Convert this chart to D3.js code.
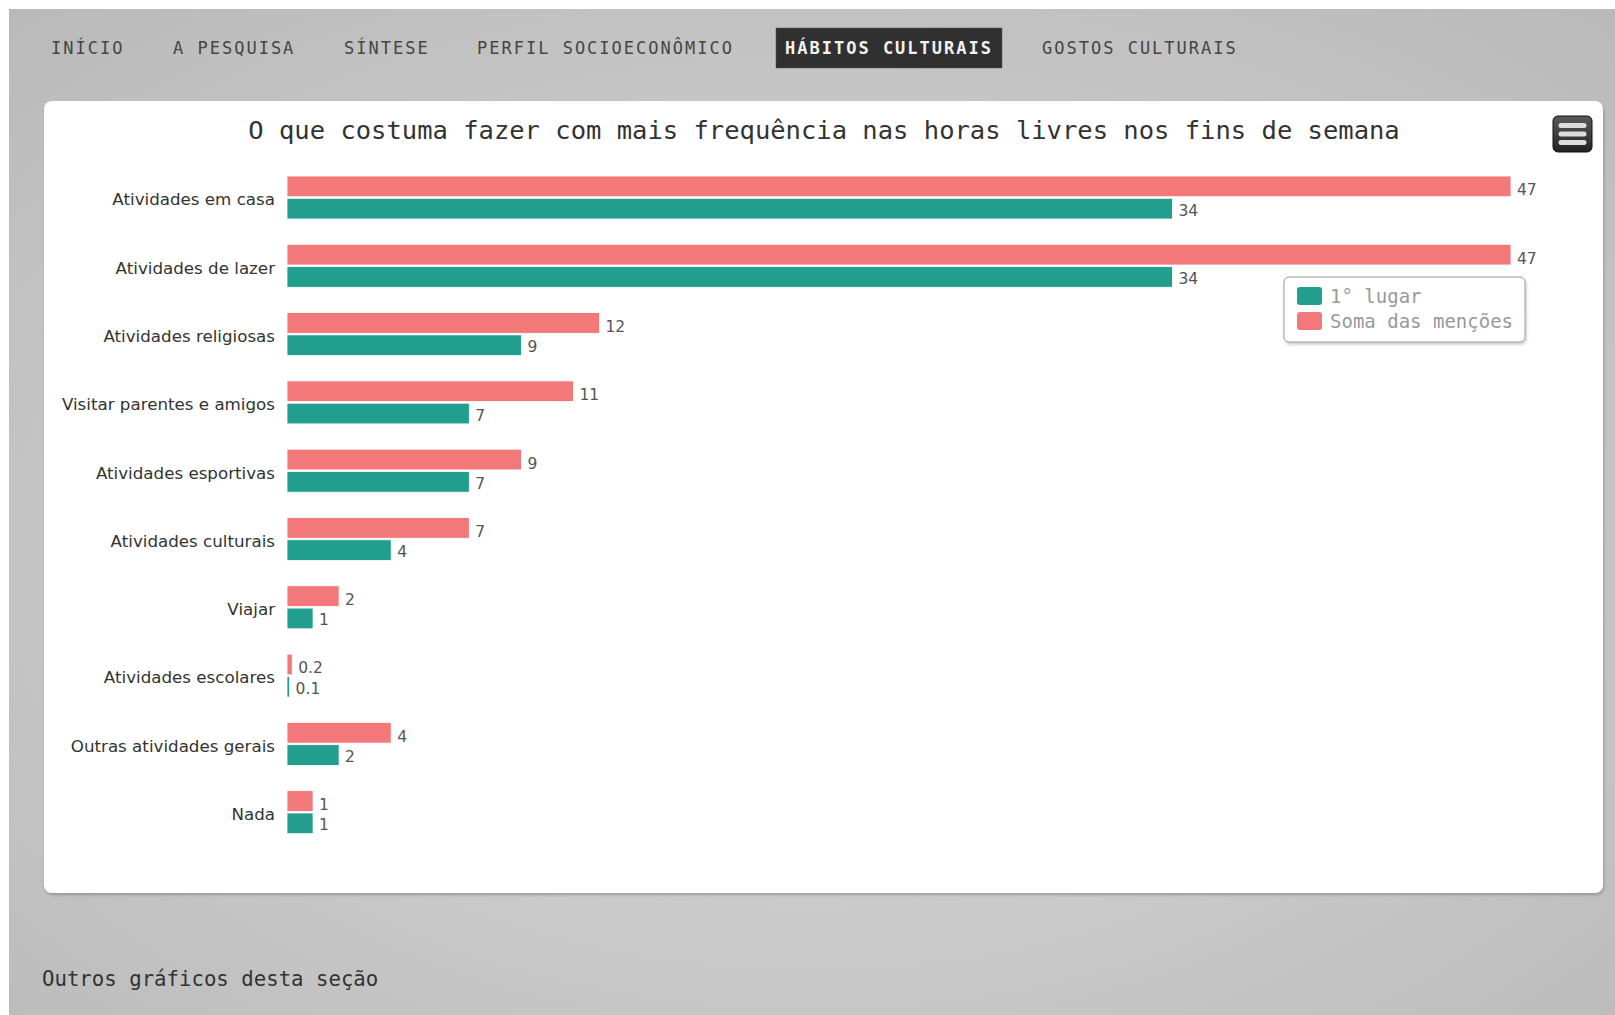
<!DOCTYPE html>
<html>
<head>
  <meta http-equiv="content-type" content="text/html; charset=UTF-8">
  <title>Hábitos culturais</title>
  <script type="text/javascript" src="https://cdn.jsdelivr.net/npm/d3@7/dist/d3.min.js"></script>
  <style type="text/css">
    html, body { margin: 0; padding: 0; background: #fff; overflow: hidden; }
    svg { display: block; }
  </style>
</head>
<body>

<div id="chart"></div>

<script type="text/javascript">

  // data
  var categories = [
    'Atividades em casa',
    'Atividades de lazer',
    'Atividades religiosas',
    'Visitar parentes e amigos',
    'Atividades esportivas',
    'Atividades culturais',
    'Viajar',
    'Atividades escolares',
    'Outras atividades gerais',
    'Nada'
  ];
  var somaMencoes = [47, 47, 12, 11, 9, 7, 2, 0.2, 4, 1];
  var primeiroLugar = [34, 34, 9, 7, 7, 4, 1, 0.1, 2, 1];

  var seriesNames = ['Soma das menções', '1° lugar'];
  var legendOrder = ['1° lugar', 'Soma das menções'];
  var navItems = ['INÍCIO', 'A PESQUISA', 'SÍNTESE', 'PERFIL SOCIOECONÔMICO', 'HÁBITOS CULTURAIS', 'GOSTOS CULTURAIS'];
  var navActive = 'HÁBITOS CULTURAIS';
  var title = 'O que costuma fazer com mais frequência nas horas livres nos fins de semana';

  var colors = {
    'Soma das menções': '#f27879',
    '1° lugar': '#219e8e'
  };

  var W = 1615, H = 1015;
  var mono = '"DejaVu Sans Mono", monospace';
  var sans = '"DejaVu Sans", Verdana, sans-serif';

  var svg = d3.select('#chart').append('svg')
      .attr('width', W)
      .attr('height', H);

  var defs = svg.append('defs');

  var bg = defs.append('radialGradient')
      .attr('id', 'bg')
      .attr('cx', '50%').attr('cy', '55%').attr('r', '75%');
  bg.append('stop').attr('offset', '0%').attr('stop-color', '#dadada');
  bg.append('stop').attr('offset', '100%').attr('stop-color', '#b9b9b9');

  var btn = defs.append('linearGradient')
      .attr('id', 'btn')
      .attr('x1', 0).attr('y1', 0).attr('x2', 0).attr('y2', 1);
  btn.append('stop').attr('offset', '0%').attr('stop-color', '#5a5a5a');
  btn.append('stop').attr('offset', '100%').attr('stop-color', '#222');

  var shadow = defs.append('filter')
      .attr('id', 'shadow')
      .attr('x', '-10%').attr('y', '-10%').attr('width', '130%').attr('height', '140%');
  shadow.append('feDropShadow')
      .attr('dx', 1).attr('dy', 2).attr('stdDeviation', 1.5)
      .attr('flood-color', '#000').attr('flood-opacity', 0.22);

  // page background
  svg.append('rect')
      .attr('x', 9).attr('y', 9)
      .attr('width', W - 9).attr('height', H - 9)
      .attr('fill', 'url(#bg)');

  // navigation bar
  var nav = svg.append('g')
      .attr('font-family', mono)
      .attr('font-size', 17)
      .attr('letter-spacing', 2);

  var navX = [51, 173, 344, 477, 785, 1042];
  navItems.forEach(function(d, i){
    if (d === navActive) {
      nav.append('rect')
          .attr('x', navX[i] - 9).attr('y', 28)
          .attr('width', 226).attr('height', 40)
          .attr('fill', '#303030')
          .attr('stroke', '#555').attr('stroke-width', 0.5);
    }
    nav.append('text')
        .attr('x', navX[i]).attr('y', 54)
        .attr('fill', d === navActive ? '#f2f2f2' : '#454545')
        .attr('font-weight', d === navActive ? 'bold' : 'normal')
        .text(d);
  });

  // white chart panel
  svg.append('rect')
      .attr('x', 44).attr('y', 101)
      .attr('width', 1559).attr('height', 792)
      .attr('rx', 8)
      .attr('fill', '#fff')
      .attr('filter', 'url(#shadow)');

  svg.append('text')
      .attr('x', 824).attr('y', 139)
      .attr('text-anchor', 'middle')
      .attr('font-family', mono)
      .attr('font-size', 25.5)
      .attr('fill', '#333')
      .text(title);

  // export menu button
  var menu = svg.append('g').attr('transform', 'translate(1553,116)');
  menu.append('rect')
      .attr('width', 39).attr('height', 36).attr('rx', 5)
      .attr('fill', 'url(#btn)')
      .attr('stroke', '#111').attr('stroke-width', 1);
  [9.5, 18, 26.5].forEach(function(y){
    menu.append('line')
        .attr('x1', 8).attr('x2', 31)
        .attr('y1', y).attr('y2', y)
        .attr('stroke', '#ddd').attr('stroke-width', 5)
        .attr('stroke-linecap', 'round');
  });

  // scales
  var plotLeft = 287;
  var x = d3.scaleLinear()
      .domain([0, 47])
      .range([plotLeft, 1511]);

  var y = d3.scaleBand()
      .domain(categories)
      .range([164, 847]);

  var inner = d3.scaleBand()
      .domain(seriesNames)
      .range([12, 55])
      .paddingInner(0.07);

  var rows = categories.map(function(c, i){
    return {
      category: c,
      values: [
        {name: 'Soma das menções', value: somaMencoes[i]},
        {name: '1° lugar', value: primeiroLugar[i]}
      ]
    };
  });

  // category axis
  var yAxis = d3.axisLeft(y).tickSize(0).tickPadding(0);
  var axisG = svg.append('g')
      .attr('transform', 'translate(275,0)')
      .call(yAxis);
  axisG.select('.domain').remove();
  axisG.selectAll('text')
      .attr('font-family', sans)
      .attr('font-size', 16.7)
      .attr('fill', '#333')
      .attr('dy', '0.55em')
      .attr('y', -2);

  // bars
  var groups = svg.selectAll('g.cat')
      .data(rows)
      .enter().append('g')
      .classed('cat', true)
      .attr('transform', function(d){ return 'translate(0,' + y(d.category) + ')'; });

  groups.selectAll('rect')
      .data(function(d){ return d.values; })
      .enter().append('rect')
      .attr('x', x(0))
      .attr('y', function(d){ return inner(d.name); })
      .attr('width', function(d){ return x(d.value) - x(0); })
      .attr('height', inner.bandwidth())
      .attr('fill', function(d){ return colors[d.name]; })
      .attr('stroke', '#fff')
      .attr('stroke-width', 0.8);

  groups.selectAll('text.lbl')
      .data(function(d){ return d.values; })
      .enter().append('text')
      .classed('lbl', true)
      .attr('x', function(d){ return x(d.value) + 6; })
      .attr('y', function(d, i){ return inner(d.name) + inner.bandwidth() / 2 + (i === 0 ? 9 : 7); })
      .attr('font-family', sans)
      .attr('font-size', 15.5)
      .attr('fill', '#555')
      .text(function(d){ return d.value; });

  // legend
  var legend = svg.append('g').attr('transform', 'translate(1284,277)');
  legend.append('rect')
      .attr('width', 241).attr('height', 65).attr('rx', 5)
      .attr('fill', '#fff')
      .attr('stroke', '#999').attr('stroke-width', 1)
      .attr('filter', 'url(#shadow)');

  var items = legend.selectAll('g.item')
      .data(legendOrder)
      .enter().append('g')
      .classed('item', true)
      .attr('transform', function(d, i){ return 'translate(13,' + (10 + i * 25) + ')'; });

  items.append('rect')
      .attr('width', 25).attr('height', 18).attr('rx', 3)
      .attr('fill', function(d){ return colors[d]; });

  items.append('text')
      .attr('x', 33).attr('y', 16)
      .attr('font-family', mono)
      .attr('font-size', 19)
      .attr('fill', '#999')
      .text(function(d){ return d; });

  // footer
  svg.append('text')
      .attr('x', 42).attr('y', 986)
      .attr('font-family', mono)
      .attr('font-size', 20.7)
      .attr('fill', '#333')
      .text('Outros gráficos desta seção');

</script>

</body>
</html>
